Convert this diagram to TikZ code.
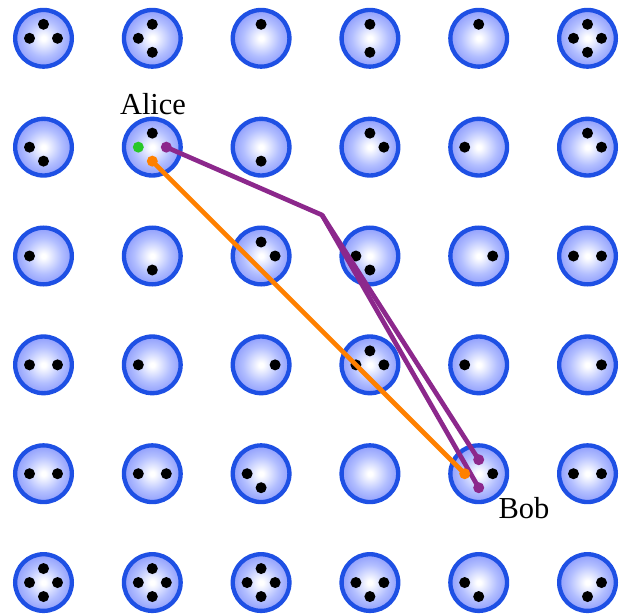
\documentclass[tikz,border=0pt]{standalone}
\usepackage{fontspec}
\setmainfont{Liberation Serif}
\definecolor{ringblue}{RGB}{30,80,228}
\definecolor{ballblue}{RGB}{105,122,248}
\definecolor{ballmid}{RGB}{178,190,255}
\definecolor{linkorange}{RGB}{255,128,0}
\definecolor{linkpurple}{RGB}{140,40,140}
\definecolor{dotgreen}{RGB}{40,200,40}
\pgfdeclareradialshading{ballshade}{\pgfpoint{0bp}{0bp}}{color(0bp)=(white); color(2bp)=(white); color(16bp)=(ballmid); color(35bp)=(ballblue); color(50bp)=(ballblue)}
\tikzset{
  ball/.style={circle, inner sep=0pt, minimum size=1.70cm, draw=ringblue, line width=0.13cm, shading=ballshade},
  dot/.style={circle, inner sep=0pt, minimum size=0.33cm, fill=black},
  orangedot/.style={dot, fill=linkorange},
  purpledot/.style={dot, fill=linkpurple},
  greendot/.style={dot, fill=dotgreen},
  orangeline/.style={draw=linkorange, line width=0.14cm, line join=round},
  purpleline/.style={draw=linkpurple, line width=0.14cm, line join=round},
  personlabel/.style={font=\fontsize{26pt}{30pt}\selectfont, inner sep=0pt, anchor=base}
}
\begin{document}
\begin{tikzpicture}[x=0.03cm, y=-0.03cm]
\useasboundingbox (0,0) rectangle (621,615);
\foreach \r in {0,...,5} {
  \foreach \c in {0,...,5} {
    \pgfmathsetmacro{\px}{43.5+108.8*\c}
    \pgfmathsetmacro{\py}{38.3+108.85*\r}
    \node[ball] (b-\r-\c) at (\px,\py) {};
    \coordinate (b-\r-\c-T) at (\px,\py-14);
    \coordinate (b-\r-\c-B) at (\px,\py+14);
    \coordinate (b-\r-\c-L) at (\px-14,\py);
    \coordinate (b-\r-\c-R) at (\px+14,\py);
  }
}
\foreach \r/\c/\d in {
  0/0/T,0/0/L,0/0/R,
  0/1/T,0/1/L,0/1/B,
  0/2/T,
  0/3/T,0/3/B,
  0/4/T,
  0/5/T,0/5/L,0/5/R,0/5/B,
  1/0/L,1/0/B,
  1/1/T,
  1/2/B,
  1/3/T,1/3/R,
  1/4/L,
  1/5/T,1/5/R,
  2/0/L,
  2/1/B,
  2/2/T,2/2/R,
  2/3/L,2/3/B,
  2/4/R,
  2/5/L,2/5/R,
  3/0/L,3/0/R,
  3/1/L,
  3/2/R,
  3/3/T,3/3/L,3/3/R,
  3/4/L,
  3/5/R,
  4/0/L,4/0/R,
  4/1/L,4/1/R,
  4/2/L,4/2/B,
  4/4/R,
  4/5/L,4/5/R,
  5/0/T,5/0/L,5/0/R,5/0/B,
  5/1/T,5/1/L,5/1/R,5/1/B,
  5/2/T,5/2/L,5/2/R,5/2/B,
  5/3/L,5/3/R,5/3/B,
  5/4/L,5/4/B,
  5/5/R,5/5/B} {
  \node[dot] (d-\r-\c-\d) at (b-\r-\c-\d) {};
}
\coordinate (bend) at (322,215);
\draw[orangeline] (b-1-1-B) -- (b-4-4-L);
\draw[purpleline] (b-1-1-R) -- (bend) -- (b-4-4-T);
\draw[purpleline] (bend) -- (b-4-4-B);
\node[greendot] (d-1-1-L) at (b-1-1-L) {};
\node[purpledot] (d-1-1-R) at (b-1-1-R) {};
\node[orangedot] (d-1-1-B) at (b-1-1-B) {};
\node[purpledot] (d-4-4-T) at (b-4-4-T) {};
\node[orangedot] (d-4-4-L) at (b-4-4-L) {};
\node[purpledot] (d-4-4-B) at (b-4-4-B) {};
\node[personlabel] (alice) at (153,114) {Alice};
\node[personlabel] (bob) at (524,518) {Bob};
\end{tikzpicture}
\end{document}
